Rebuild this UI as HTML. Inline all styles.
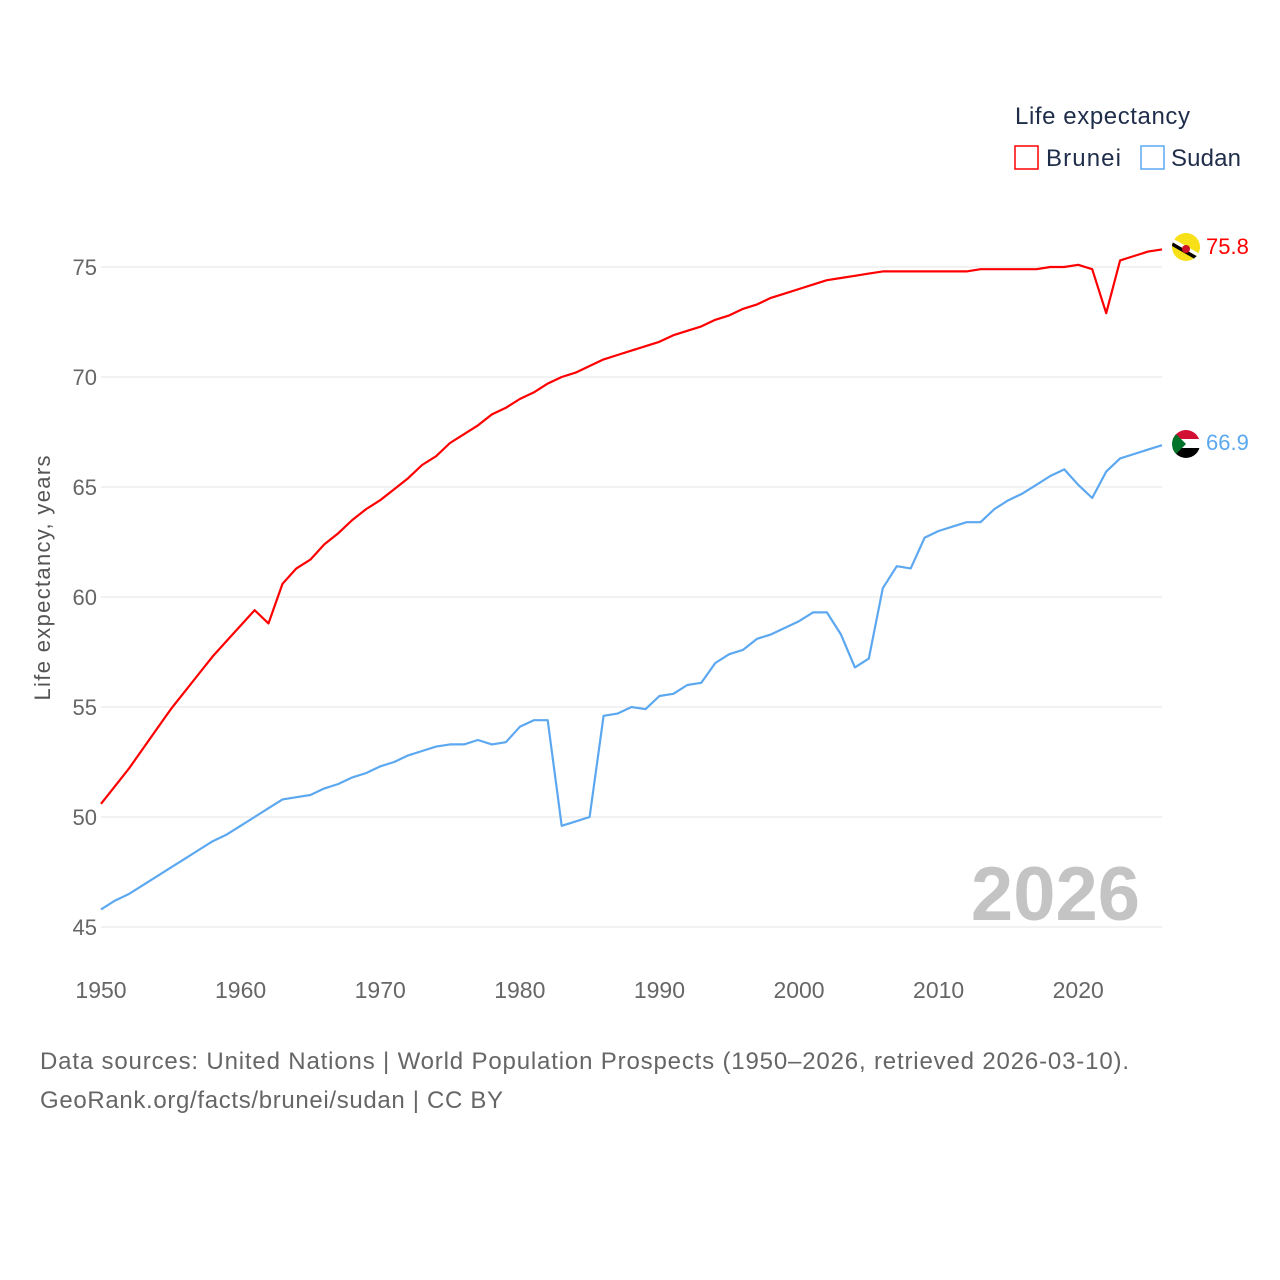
<!DOCTYPE html>
<html><head><meta charset="utf-8"><style>
body{margin:0;background:#fff;font-family:"Liberation Sans",sans-serif}
svg{display:block}
</style></head><body>
<svg id="chart" width="1280" height="1280" viewBox="0 0 1280 1280">
<g id="grid"></g>
<g id="lines"></g>
<text x="1140" y="920" text-anchor="end" font-size="76" font-weight="bold" fill="#c4c4c4">2026</text>
<text transform="translate(50,578) rotate(-90)" text-anchor="middle" font-size="22" fill="#555" textLength="245">Life expectancy, years</text>
<g>
<text x="1015" y="124" font-size="24" fill="#1f2d4a" textLength="175">Life expectancy</text>
<g><rect x="1015" y="146" width="23" height="23" fill="none" stroke="#f00" stroke-width="1.5"/><text x="1046" y="166" font-size="24" fill="#1f2d4a" textLength="75">Brunei</text></g>
<g><rect x="1141" y="146" width="23" height="23" fill="none" stroke="#5ca8f0" stroke-width="1.5"/><text x="1171" y="166" font-size="24" fill="#1f2d4a" textLength="70">Sudan</text></g>
</g>
<g><clipPath id="cb"><circle cx="1186" cy="247" r="14"/></clipPath><g clip-path="url(#cb)"><rect x="1172" y="233" width="28" height="28" fill="#f7e017"/><path d="M1172 238 L1200 254 L1200 258 L1172 242Z" fill="#fff"/><path d="M1172 242 L1200 258 L1200 262 L1172 246Z" fill="#000"/><circle cx="1186" cy="249" r="4" fill="#cf1126"/></g></g>
<text x="1206" y="254" font-size="22" fill="#f00">75.8</text>
<g><clipPath id="cs"><circle cx="1186" cy="444" r="14"/></clipPath><g clip-path="url(#cs)"><rect x="1172" y="430" width="28" height="10" fill="#d21034"/><rect x="1172" y="439" width="28" height="10" fill="#fff"/><rect x="1172" y="448" width="28" height="10" fill="#000"/><path d="M1172 430 L1186 444 L1172 458Z" fill="#007229"/></g></g>
<text x="1206" y="450" font-size="22" fill="#5ca8f0">66.9</text>
<text x="40" y="1069" font-size="24" fill="#666" textLength="1089">Data sources: United Nations | World Population Prospects (1950–2026, retrieved 2026-03-10).</text>
<text x="40" y="1108" font-size="24" fill="#666" textLength="463">GeoRank.org/facts/brunei/sudan | CC BY</text>
</svg>
<script>
const years=[];for(let y=1950;y<=2026;y++)years.push(y);
const brunei=[50.6,51.4,52.2,53.1,54.0,54.9,55.7,56.5,57.3,58.0,58.7,59.4,58.8,60.6,61.3,61.7,62.4,62.9,63.5,64.0,64.4,64.9,65.4,66.0,66.4,67.0,67.4,67.8,68.3,68.6,69.0,69.3,69.7,70.0,70.2,70.5,70.8,71.0,71.2,71.4,71.6,71.9,72.1,72.3,72.6,72.8,73.1,73.3,73.6,73.8,74.0,74.2,74.4,74.5,74.6,74.7,74.8,74.8,74.8,74.8,74.8,74.8,74.8,74.9,74.9,74.9,74.9,74.9,75.0,75.0,75.1,74.9,72.9,75.3,75.5,75.7,75.8];
const sudan=[45.8,46.2,46.5,46.9,47.3,47.7,48.1,48.5,48.9,49.2,49.6,50.0,50.4,50.8,50.9,51.0,51.3,51.5,51.8,52.0,52.3,52.5,52.8,53.0,53.2,53.3,53.3,53.5,53.3,53.4,54.1,54.4,54.4,49.6,49.8,50.0,54.6,54.7,55.0,54.9,55.5,55.6,56.0,56.1,57.0,57.4,57.6,58.1,58.3,58.6,58.9,59.3,59.3,58.3,56.8,57.2,60.4,61.4,61.3,62.7,63.0,63.2,63.4,63.4,64.0,64.4,64.7,65.1,65.5,65.8,65.1,64.5,65.7,66.3,66.5,66.7,66.9];
const yTicks=[45,50,55,60,65,70,75];
const xTicks=[1950,1960,1970,1980,1990,2000,2010,2020];
const X=y=>101+(y-1950)*(1162-101)/76;
const Y=v=>927-(v-45)*22;
const NS='http://www.w3.org/2000/svg';
const grid=document.getElementById('grid'),lines=document.getElementById('lines');
function mk(tag,attrs,parent,txt){const e=document.createElementNS(NS,tag);for(const k in attrs)e.setAttribute(k,attrs[k]);if(txt!=null)e.textContent=txt;parent.appendChild(e);return e;}
yTicks.forEach(v=>{
 const l=mk('line',{x1:101,x2:1162,y1:Y(v),y2:Y(v),stroke:'#e6e6e6','stroke-width':1},grid);
 
 
 const t=mk('text',{x:97,y:Y(v)+8,'text-anchor':'end','font-size':22,fill:'#666'},grid,v);
 
 
});
xTicks.forEach(v=>{
 const t=mk('text',{x:X(v),y:998,'text-anchor':'middle','font-size':23,fill:'#666'},grid,v);
 
 
});
function line(data,color,name){
 const p=mk('path',{d:data.map((v,i)=>(i?'L':'M')+X(years[i]).toFixed(1)+' '+Y(v).toFixed(1)).join(''),fill:'none',stroke:color,'stroke-width':2.2,'stroke-linejoin':'round'},lines);
 
 
}
line(brunei,'#f00','brunei-line');
line(sudan,'#5ca8f0','sudan-line');
</script>
</body></html>
